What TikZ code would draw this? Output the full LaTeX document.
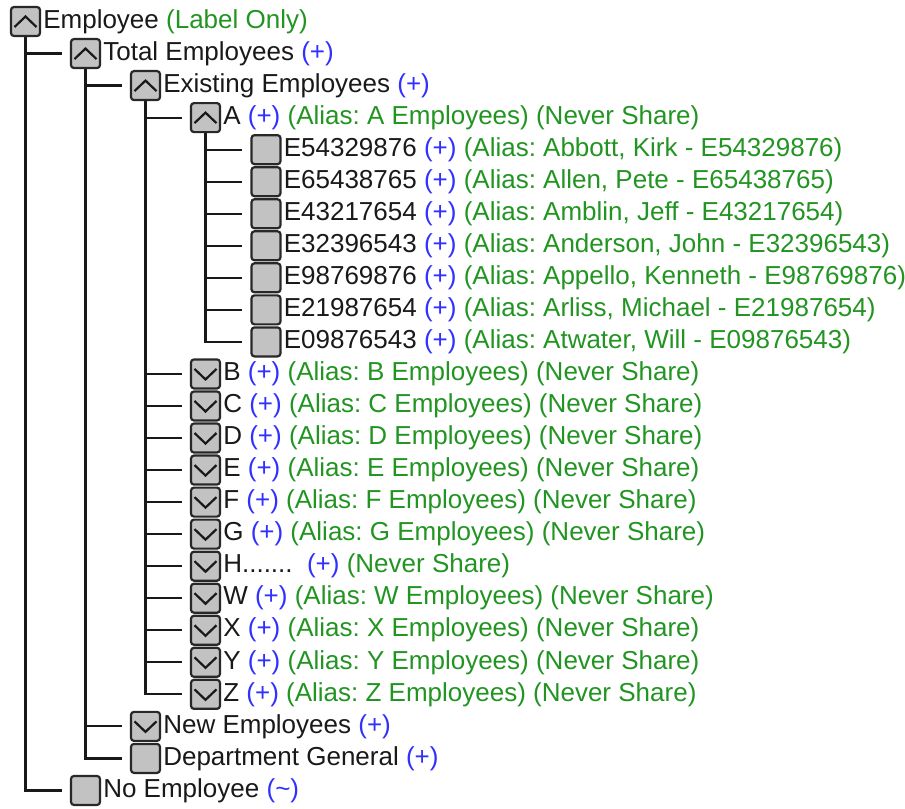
\documentclass[tikz,border=0pt]{standalone}
\usepackage{fontspec}
\usepackage{xcolor}
\setmainfont{Liberation Sans}
\frenchspacing
\definecolor{boxgray}{RGB}{194,194,194}
\definecolor{edgegray}{RGB}{40,40,40}
\definecolor{inkblack}{RGB}{25,25,25}
\definecolor{plusblue}{RGB}{48,48,255}
\definecolor{aliasgreen}{RGB}{34,148,34}
\newcommand{\addsign}{\textcolor{plusblue}{(+)}}
\newcommand{\gtext}[1]{\textcolor{aliasgreen}{#1}}

\begin{document}
\begin{tikzpicture}%
  [x=1pt,y=-32.04pt,font=\fontsize{26}{30}\selectfont]
  \tikzstyle{tog node}=[rectangle,draw=edgegray,fill=boxgray,line width=2.2pt,
    rounded corners=3pt,minimum size=29pt,inner sep=0]
  \tikzstyle{open node}=[tog node,path picture={\draw[sharp corners,line width=2.2pt,draw=inkblack]
    ([shift={(-11pt,-5.5pt)}]path picture bounding box.center) -- ++(11pt,10.5pt) -- ++(11pt,-10.5pt);}]
  \tikzstyle{shut node}=[tog node,path picture={\draw[sharp corners,line width=2.2pt,draw=inkblack]
    ([shift={(-11pt,5pt)}]path picture bounding box.center) -- ++(11pt,-10.5pt) -- ++(11pt,10.5pt);}]
  \tikzstyle{txt node}=[anchor=west,inner xsep=2pt,inner ysep=0,text=inkblack]
  \tikzstyle{link}=[draw=inkblack,line width=2.2pt,shorten >=8pt]
  \useasboundingbox (0,-0.671) rectangle (905,24.548);
  % top levels
  \node(emp)[open node] at (25.5,0) {};
  \node[txt node] at (emp.east) {Employee \gtext{(Label Only)}};
  \node(tot)[open node] at (85.5,1) {};
  \node[txt node] at (tot.east) {Total Employees \addsign};
  \node(ex)[open node] at (145.5,2) {};
  \node[txt node] at (ex.east) {Existing Employees \addsign};
  \node(a)[open node] at (205.5,3) {};
  \node[txt node] at (a.east) {A \addsign\ \gtext{(Alias: A Employees) (Never Share)}};
  % employees under A
  \foreach \id/\who [count=\i from 4] in {E54329876/{Abbott, Kirk},
      E65438765/{Allen, Pete},E43217654/{Amblin, Jeff},E32396543/{Anderson, John},
      E98769876/{Appello, Kenneth},E21987654/{Arliss, Michael},E09876543/{Atwater, Will}}{
    \node(e\i)[tog node] at (266,\i) {};
    \node[txt node] at (e\i.east) {\id\ \addsign\ \gtext{(Alias: \who\ - \id)}};
    \draw[link] (a.south) |- (e\i.west);
  }
  % closed groups
  \foreach \g [count=\i from 11] in {B,C,D,E,F,G}{
    \node(g\g)[shut node] at (205.5,\i) {};
    \node[txt node] at (g\g.east) {\g\ \addsign\ \gtext{(Alias: \g\ Employees) (Never Share)}};
  }
  \node(gH)[shut node] at (205.5,17) {};
  \node[txt node] at (gH.east) {H.......\ \ \addsign\ \gtext{(Never Share)}};
  \foreach \g [count=\i from 18] in {W,X,Y,Z}{
    \node(g\g)[shut node] at (205.5,\i) {};
    \node[txt node] at (g\g.east) {\g\ \addsign\ \gtext{(Alias: \g\ Employees) (Never Share)}};
  }
  \foreach \g in {B,C,D,E,F,G,H,W,X,Y,Z}
    \draw[link] (ex.south) |- (g\g.west);
  \draw[link] (ex.south) |- (a.west);
  % rest
  \node(new)[shut node] at (145.5,22) {};
  \node[txt node] at (new.east) {New Employees \addsign};
  \node(dep)[tog node] at (145.5,23) {};
  \node[txt node] at (dep.east) {Department General \addsign};
  \node(no)[tog node] at (85.5,24) {};
  \node[txt node] at (no.east) {No Employee \textcolor{plusblue}{(\textasciitilde)}};
  \draw[link] (tot.south) |- (ex.west);
  \draw[link] (tot.south) |- (new.west);
  \draw[link] (tot.south) |- (dep.west);
  \draw[link] (emp.south) |- (tot.west);
  \draw[link] (emp.south) |- (no.west);
\end{tikzpicture}
\end{document}
